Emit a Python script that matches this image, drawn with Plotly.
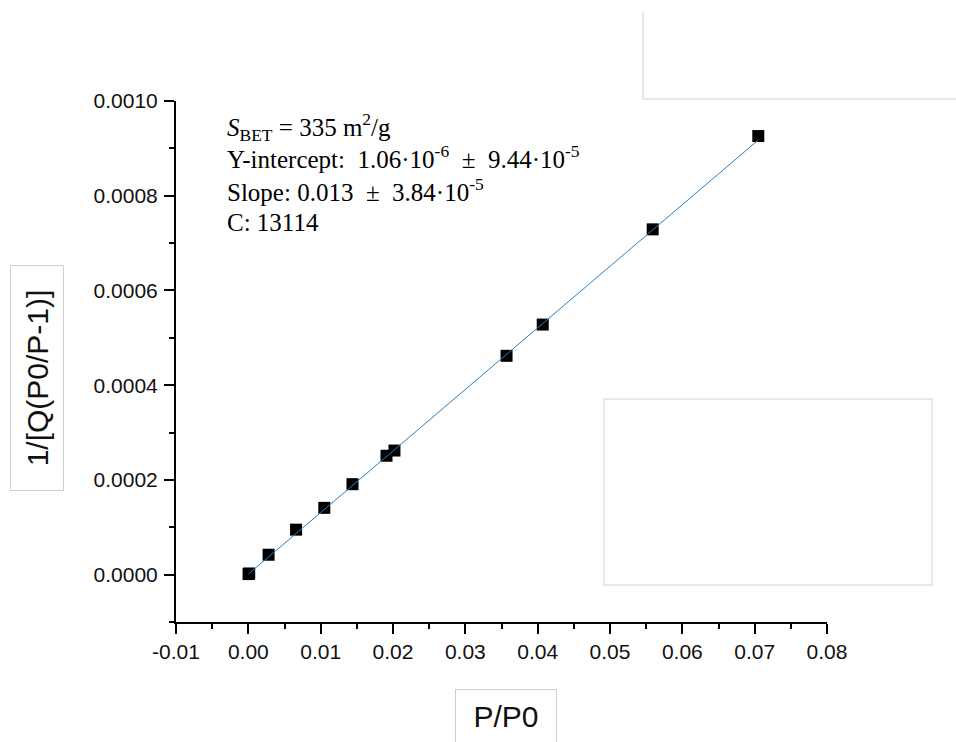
import plotly.graph_objects as go

# BET plot data: relative pressure vs. 1/[Q(P0/P - 1)]
p_rel = [0.00003, 0.00012, 0.0028, 0.0066, 0.0105, 0.0144, 0.0191, 0.0202,
         0.0357, 0.0407, 0.0559, 0.0705]
bet_y = [0.0000012, 0.0000025, 0.0000420, 0.0000950, 0.0001410, 0.0001910,
         0.0002510, 0.0002620, 0.0004620, 0.0005280, 0.0007290, 0.0009260]

# linear fit parameters
SLOPE = 0.013
INTERCEPT = 1.06e-6

x_ticks = [-0.01, 0.00, 0.01, 0.02, 0.03, 0.04, 0.05, 0.06, 0.07, 0.08]
y_ticks = [0.0000, 0.0002, 0.0004, 0.0006, 0.0008, 0.0010]

fit_x = [p_rel[0], p_rel[-1]]
fit_y = [INTERCEPT + SLOPE * v for v in fit_x]

W, H = 956, 742
L, R, T, B = 176, 827, 101, 622  # plot-area edges in pixels


def px(x):
    return (x - L) / (R - L)


def py(y):
    return (B - y) / (B - T)


fig = go.Figure()
fig.add_trace(go.Scatter(
    x=p_rel, y=bet_y, mode="markers",
    marker=dict(symbol="square", size=12, color="black", line=dict(width=0)),
    showlegend=False,
))
fig.add_trace(go.Scatter(
    x=fit_x, y=fit_y, mode="lines",
    line=dict(color="#2a7fc1", width=1),
    showlegend=False,
))

tick_font = dict(family="Liberation Sans, Arial, sans-serif", size=21, color="#111")
axis_common = dict(
    showgrid=False, zeroline=False, showline=True, linecolor="black", linewidth=2,
    ticks="outside", ticklen=10, tickwidth=2, tickcolor="black",
    tickfont=tick_font, mirror=False,
)

fig.update_xaxes(
    range=[-0.01, 0.08], tickvals=x_ticks,
    ticktext=[f"{v:.2f}" for v in x_ticks],
    minor=dict(dtick=0.005, tick0=-0.01, ticks="outside", ticklen=5,
               tickwidth=2, tickcolor="black"),
    **axis_common,
)
fig.update_yaxes(
    range=[-0.0001, 0.0010], tickvals=y_ticks,
    ticktext=[f"{v:.4f}" for v in y_ticks],
    minor=dict(dtick=0.0001, tick0=-0.0001, ticks="outside", ticklen=5,
               tickwidth=2, tickcolor="black"),
    ticklabelstandoff=2,
    **axis_common,
)

serif = dict(family="Liberation Serif, Times New Roman, serif", size=25, color="black")
nb = "\u00a0"
info_lines = [
    ("<i>S</i><sub>BET</sub> = 335 m<sup>2</sup>/g", 127),
    (f"Y-intercept:{nb}{nb}1.06·10<sup>-6</sup>{nb}{nb}±{nb}{nb}9.44·10<sup>-5</sup>", 157),
    (f"Slope: 0.013{nb}{nb}±{nb}{nb}3.84·10<sup>-5</sup>", 190),
    ("C: 13114", 223),
]
annotations = []
for text, yc in info_lines:
    annotations.append(dict(
        text=text, xref="paper", yref="paper", x=px(225), y=py(yc),
        xanchor="left", yanchor="middle", showarrow=False, font=serif,
    ))

title_font = dict(family="Liberation Sans, Arial, sans-serif", size=30, color="#111")
annotations.append(dict(
    text="1/[Q(P0/P-1)]", xref="paper", yref="paper", x=px(37), y=py(378),
    xanchor="center", yanchor="middle", showarrow=False, textangle=-90,
    font=title_font, width=212, height=40, borderpad=6,
    bordercolor="#cfcfcf", borderwidth=1,
))
annotations.append(dict(
    text="P/P0", xref="paper", yref="paper", x=px(506), y=py(716),
    xanchor="center", yanchor="middle", showarrow=False,
    font=title_font, width=88, height=40, borderpad=6,
    bordercolor="#cfcfcf", borderwidth=1,
))

box_line = dict(color="#d2d2d2", width=1)
shapes = [
    # empty frame at the lower right of the plot
    dict(type="rect", xref="paper", yref="paper",
         x0=px(604), x1=px(932), y0=py(585), y1=py(399), line=box_line),
    # partial frame at the top right
    dict(type="line", xref="paper", yref="paper",
         x0=px(643), x1=px(643), y0=py(12), y1=py(99), line=box_line),
    dict(type="line", xref="paper", yref="paper",
         x0=px(643), x1=px(960), y0=py(99), y1=py(99), line=box_line),
]

fig.update_layout(
    width=W, height=H,
    margin=dict(l=L, r=W - R, t=T, b=H - B),
    paper_bgcolor="white", plot_bgcolor="white",
    annotations=annotations, shapes=shapes,
    showlegend=False,
)

fig.write_html("out.html")
